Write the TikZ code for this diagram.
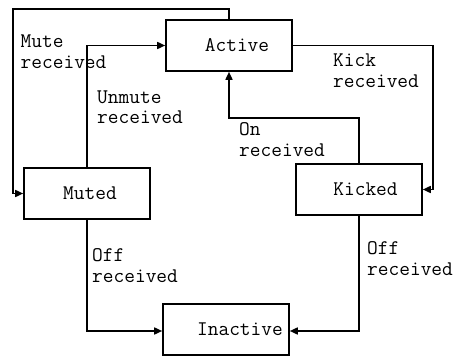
\documentclass[tikz,border=0pt]{standalone}
\usepackage{fontspec}
\usetikzlibrary{arrows.meta}
\begin{document}
\begin{tikzpicture}[x=1pt,y=-1pt,
  box/.style={draw,line width=1.6pt,minimum width=126pt,minimum height=51pt,inner sep=0pt,font=\ttfamily\fontsize{20.8}{20.5}\selectfont},
  lbl/.style={anchor=base west,inner sep=0pt,align=left,font=\ttfamily\fontsize{20.8}{20.5}\selectfont},
  conn/.style={line width=1.6pt,-{Triangle[length=8pt,width=7pt]}}]
\useasboundingbox (0,0) rectangle (456,356);
\node[box] (active) at (229,45.5) {\hspace*{16pt}Active};
\node[box] (muted) at (87,193.5) {\hspace*{6pt}Muted};
\node[box] (kicked) at (359,189.5) {\hspace*{13pt}Kicked};
\node[box] (inactive) at (226,329.5) {\hspace*{28pt}Inactive};
\coordinate (c1) at (13,9);
\coordinate (c2) at (433,45.5);
\coordinate (c3) at (229,118);
\coordinate (c4) at (87,331);
\coordinate (c5) at (359,331);
\draw[conn] (active.north) -- (active.north |- c1) -- (c1) |- (muted.west);
\draw[conn] (muted.north) |- (active.west);
\draw[conn] (active.east) -- (c2) |- (kicked.east);
\draw[conn] (kicked.north) |- (c3) -- (active.south);
\draw[conn] (muted.south) -- (c4) -- (inactive.west |- c4);
\draw[conn] (kicked.south) -- (c5) -- (inactive.east |- c5);
\node[lbl] (l1) at (20.5,68) {Mute\\received};
\node[lbl] (l2) at (97,123.5) {Unmute\\received};
\node[lbl] (l3) at (333,87) {Kick\\received};
\node[lbl] (l4) at (239,156) {On\\received};
\node[lbl] (l5) at (92,282) {Off\\received};
\node[lbl] (l6) at (367,275) {Off\\received};
\end{tikzpicture}
\end{document}
